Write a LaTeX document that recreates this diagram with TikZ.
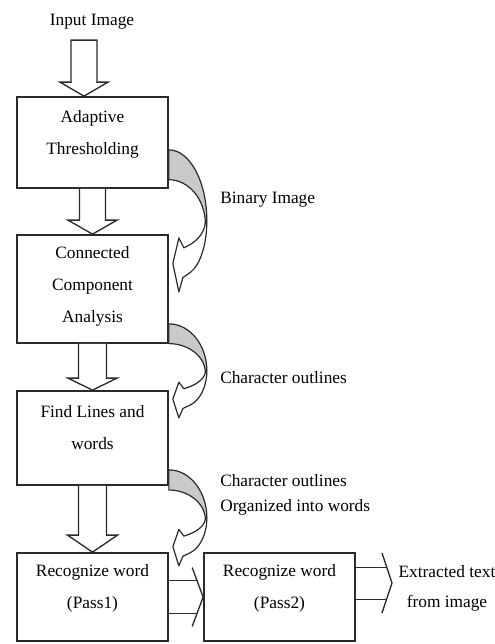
\documentclass[tikz,border=0pt]{standalone}
\usepackage{fontspec}
\setmainfont{Liberation Serif}
\usetikzlibrary{calc}
\definecolor{linec}{HTML}{2A2A2A}
\definecolor{shadec}{HTML}{C9C9C9}
\tikzset{
  curvarr/.pic={
    \filldraw[fill=shadec, draw=linec, line width=0.9pt]
      (0,-1) .. controls (21,-1) and (38,-0.55) .. (38,0)
      -- (36.5,0.03) .. controls (36,-0.32) and (19,-0.58) .. (0,-0.58) -- cycle;
    \filldraw[fill=white, draw=linec, line width=0.9pt, line join=round]
      (38,0) .. controls (38,0.34) and (31,0.62) .. (22,0.72)
      -- (14,0.8) -- (10,1) -- (4,0.6) -- (10,0.24) -- (15,0.38)
      .. controls (26,0.31) and (35,0.2) .. (36.5,0.03) -- cycle;
  }
}
\begin{document}
\begin{tikzpicture}[x=0.75pt,y=-0.75pt,
  box/.style={draw=linec, line width=1.3pt, fill=white, rectangle, inner sep=0pt},
  txt/.style={font=\fontsize{13}{24}\selectfont, align=center, inner sep=0pt, text=black},
  lbl/.style={font=\fontsize{13}{18.75}\selectfont, align=left, inner sep=0pt, anchor=west, text=black},
  barrow/.style={draw=linec, line width=1pt, fill=white, line join=miter},
  oarrow/.style={draw=linec, line width=1pt}
]
\useasboundingbox (0,0) rectangle (495,644);

% boxes
\node[box, minimum width=113.25pt, minimum height=68.25pt] (b1) at (92.5,142.5) {};
\node[box, minimum width=113.25pt, minimum height=81pt] (b2) at (92.5,289) {};
\node[box, minimum width=113.25pt, minimum height=70.5pt] (b3) at (92.5,438) {};
\node[box, minimum width=113.25pt, minimum height=66pt] (b4) at (92.5,597) {};
\node[box, minimum width=113.25pt, minimum height=66pt] (b5) at (279.5,597) {};

% box texts
\node[txt] (t1) at ($(b1.center)+(0,-8)$) {Adaptive\\Thresholding};
\node[txt] (t2) at ($(b2.center)+(0,-3)$) {Connected\\Component\\Analysis};
\node[txt] (t3) at ($(b3.center)+(0,-10)$) {Find Lines and\\words};
\node[txt] (t4) at ($(b4.center)+(0,-8.5)$) {Recognize word\\(Pass1)};
\node[txt] (t5) at ($(b5.center)+(0,-8.5)$) {Recognize word\\(Pass2)};

% input
\node[txt] (inp) at (92,22) {Input Image};
\draw[barrow] ($(b1.north)+(-21.5,-56)$) -- ($(b1.north)+(-21.5,-14)$) -- ($(b1.north)+(-32.5,-14)$)
  -- ($(b1.north)+(-8.5,0)$) -- ($(b1.north)+(15.5,-14)$) -- ($(b1.north)+(4.5,-14)$)
  -- ($(b1.north)+(4.5,-56)$) -- cycle;

% vertical block arrows
\draw[barrow] ($(b1.south)+(-13,0)$) -- ($(b2.north)+(-13,-14)$) -- ($(b2.north)+(-24.5,-14)$)
  -- (b2.north) -- ($(b2.north)+(24.5,-14)$) -- ($(b2.north)+(13,-14)$) -- ($(b1.south)+(13,0)$);
\draw[barrow] ($(b2.south)+(-14,0)$) -- ($(b3.north)+(-14,-12)$) -- ($(b3.north)+(-24.5,-12)$)
  -- (b3.north) -- ($(b3.north)+(24.5,-12)$) -- ($(b3.north)+(14,-12)$) -- ($(b2.south)+(14,0)$);
\draw[barrow] ($(b3.south)+(-14,0)$) -- ($(b4.north)+(-14,-17)$) -- ($(b4.north)+(-25,-17)$)
  -- (b4.north) -- ($(b4.north)+(25,-17)$) -- ($(b4.north)+(14,-17)$) -- ($(b3.south)+(14,0)$);

% curved arrows
\pic[yscale=71] at ($(b1.south east)+(0,32)$) {curvarr};
\pic[yscale=47] at ($(b2.south east)+(0,27)$) {curvarr};
\pic[yscale=48] at ($(b3.south east)+(0,32)$) {curvarr};

% curved arrow labels
\node[lbl] (l1) at (220,200) {Binary Image};
\node[lbl] (l2) at (220,378) {Character outlines};
\node[lbl] (l3) at (220,494.5) {Character outlines\\Organized into words};

% open arrow pass1 -> pass2
\draw[oarrow] ($(b4.east)+(0,-16.5)$) -- ($(b5.west)+(-6,-16.5)$);
\draw[oarrow] ($(b4.east)+(0,16.5)$) -- ($(b5.west)+(-6,16.5)$);
\draw[oarrow, line join=round] ($(b5.west)+(-11,-29.5)$) -- (b5.west) -- ($(b5.west)+(-11,29.5)$);

% open arrow pass2 -> output
\coordinate (otip) at (392,583);
\draw[oarrow] ($(b5.east |- otip)+(0,-15.5)$) -- ($(otip)+(-5,-15.5)$);
\draw[oarrow] ($(b5.east |- otip)+(0,16.5)$) -- ($(otip)+(-5,16.5)$);
\draw[oarrow, line join=round] ($(otip)+(-10,-30)$) -- (otip) -- ($(otip)+(-10,30)$);
\node[txt, font=\fontsize{13}{22.5}\selectfont] (ext) at (447,588) {Extracted text\\from image};
\end{tikzpicture}
\end{document}
